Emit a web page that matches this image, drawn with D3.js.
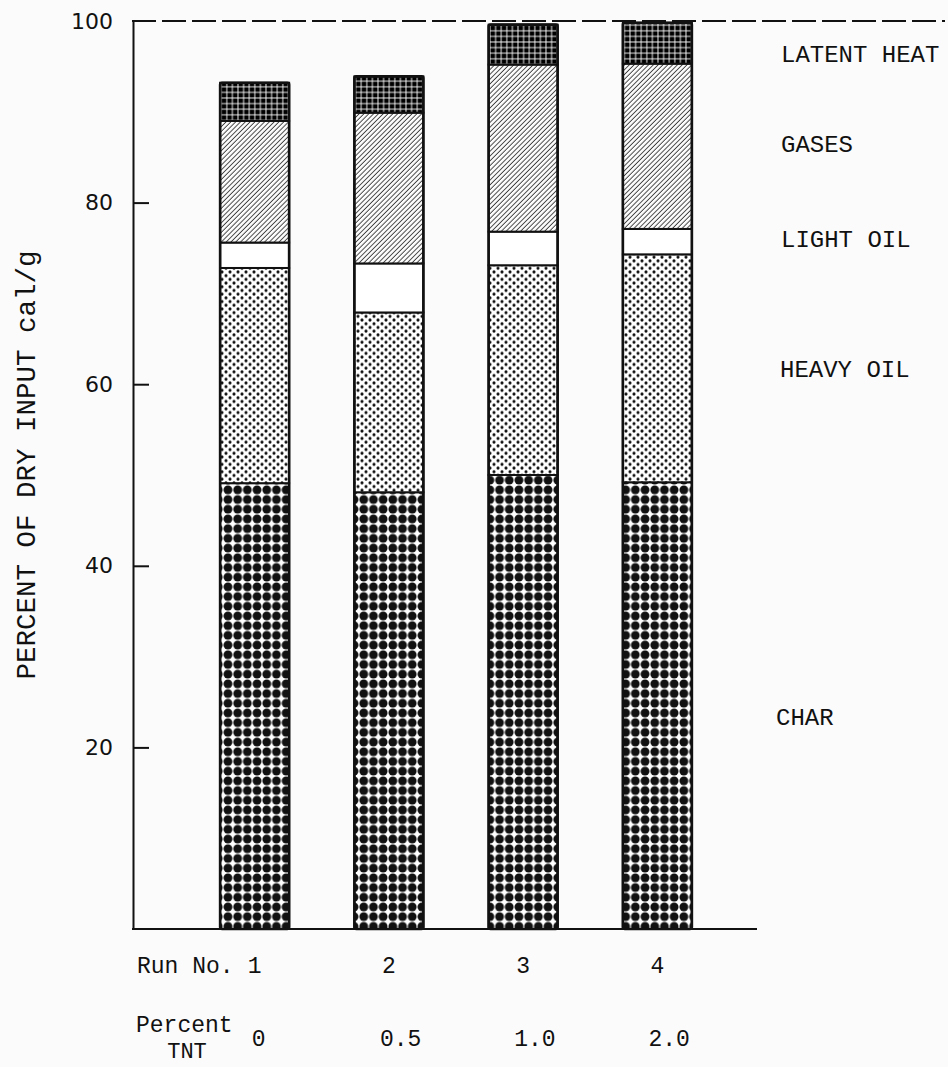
<!DOCTYPE html>
<html>
<head>
<meta charset="utf-8">
<script src="https://cdn.jsdelivr.net/npm/d3@7/dist/d3.min.js"></script>
<style>
  html, body { margin: 0; padding: 0; background: #fbfbfb; }
  svg { display: block; }
</style>
</head>
<body>
<svg id="chart" width="948" height="1067"></svg>
<script>
// ---------- data ----------
const runs = ["1", "2", "3", "4"];
const tntPercent = ["0", "0.5", "1.0", "2.0"];
const components = ["CHAR", "HEAVY OIL", "LIGHT OIL", "GASES", "LATENT HEAT"];
const charVals = [49.1, 48.1, 50.0, 49.2];
const heavyOilVals = [23.7, 19.8, 23.1, 25.1];
const lightOilVals = [2.8, 5.4, 3.7, 2.8];
const gasesVals = [13.4, 16.6, 18.4, 18.2];
const latentHeatVals = [4.2, 4.0, 4.4, 4.5];
const yTicks = [20, 40, 60, 80, 100];
const yLabel = "PERCENT OF DRY INPUT cal/g";

// ---------- layout ----------
const W = 948, H = 1067;
const axisX = 133, baseY = 929, topY = 21;
const mono = "'Courier New', 'Liberation Mono', monospace";
const ink = "#111";

const svg = d3.select("#chart");
svg.append("rect").attr("width", W).attr("height", H).attr("fill", "#fbfbfb");

const y = d3.scaleLinear().domain([0, 100]).range([baseY, topY]);
const x = d3.scaleBand().domain(runs).range([187.5, 724.5]).paddingInner(0.486).paddingOuter(0.243);

// ---------- patterns ----------
const defs = svg.append("defs");
// CHAR: large dots
const pChar = defs.append("pattern").attr("id", "p-char").attr("patternUnits", "userSpaceOnUse")
  .attr("width", 9.7).attr("height", 9.7);
pChar.append("rect").attr("width", 9.7).attr("height", 9.7).attr("fill", "#fff");
pChar.append("circle").attr("cx", 4.85).attr("cy", 4.85).attr("r", 4.4).attr("fill", ink);

// HEAVY OIL: small staggered dots
const pHeavy = defs.append("pattern").attr("id", "p-heavy").attr("patternUnits", "userSpaceOnUse")
  .attr("width", 8.0).attr("height", 7.4);
pHeavy.append("rect").attr("width", 8.0).attr("height", 7.4).attr("fill", "#fff");
[[2.0, 1.85], [6.0, 5.55]].forEach(([cx, cy]) =>
  pHeavy.append("circle").attr("cx", cx).attr("cy", cy).attr("r", 1.55).attr("fill", ink));

// GASES: diagonal hatching
const pGas = defs.append("pattern").attr("id", "p-gas").attr("patternUnits", "userSpaceOnUse")
  .attr("width", 3.4).attr("height", 10).attr("patternTransform", "rotate(45)");
pGas.append("rect").attr("width", 3.4).attr("height", 10).attr("fill", "#fff");
pGas.append("line").attr("x1", 1.2).attr("x2", 1.2).attr("y1", 0).attr("y2", 10)
  .attr("stroke", "#333").attr("stroke-width", 0.9);

// LATENT HEAT: black with white grid
const pLat = defs.append("pattern").attr("id", "p-lat").attr("patternUnits", "userSpaceOnUse")
  .attr("width", 5.6).attr("height", 5.6);
pLat.append("rect").attr("width", 5.6).attr("height", 5.6).attr("fill", "#000");
pLat.append("line").attr("x1", 2.8).attr("x2", 2.8).attr("y1", 0).attr("y2", 5.6)
  .attr("stroke", "#fff").attr("stroke-width", 0.9);
pLat.append("line").attr("y1", 2.8).attr("y2", 2.8).attr("x1", 0).attr("x2", 5.6)
  .attr("stroke", "#fff").attr("stroke-width", 0.9);

const fills = {
  "CHAR": "url(#p-char)",
  "HEAVY OIL": "url(#p-heavy)",
  "LIGHT OIL": "#fff",
  "GASES": "url(#p-gas)",
  "LATENT HEAT": "url(#p-lat)"
};

// ---------- stacked data ----------
const table = runs.map((r, i) => ({
  run: r,
  "CHAR": charVals[i],
  "HEAVY OIL": heavyOilVals[i],
  "LIGHT OIL": lightOilVals[i],
  "GASES": gasesVals[i],
  "LATENT HEAT": latentHeatVals[i]
}));
const stacked = d3.stack().keys(components)(table);

// ---------- bars ----------
const gBars = svg.append("g");
stacked.forEach(layer => {
  gBars.selectAll(null).data(layer).enter().append("rect")
    .attr("x", d => x(d.data.run))
    .attr("width", x.bandwidth())
    .attr("y", d => y(d[1]))
    .attr("height", d => y(d[0]) - y(d[1]))
    .attr("fill", fills[layer.key])
    .attr("stroke", ink)
    .attr("stroke-width", 2);
});
// outer bar outline
gBars.selectAll(null).data(stacked[stacked.length - 1]).enter().append("rect")
  .attr("x", d => x(d.data.run))
  .attr("width", x.bandwidth())
  .attr("y", d => y(d[1]))
  .attr("height", d => y(0) - y(d[1]))
  .attr("rx", 2)
  .attr("fill", "none")
  .attr("stroke", ink)
  .attr("stroke-width", 2.6);

// ---------- axes ----------
const yAxis = d3.axisLeft(y).tickValues(yTicks).tickSizeInner(-16).tickSizeOuter(0).tickPadding(20)
  .tickFormat(d3.format("d"));
const gY = svg.append("g").attr("transform", `translate(${axisX},0)`).call(yAxis);
gY.select(".domain").attr("stroke", ink).attr("stroke-width", 2);
gY.selectAll(".tick line").attr("stroke", ink).attr("stroke-width", 2)
  .filter(d => d === 100).remove();
gY.selectAll(".tick text").attr("fill", ink)
  .style("font-family", "'DejaVu Sans', sans-serif").style("font-size", "22px");

// baseline
svg.append("line").attr("x1", axisX - 1).attr("x2", 757).attr("y1", y(0)).attr("y2", y(0))
  .attr("stroke", ink).attr("stroke-width", 2.2);
// dashed 100% line
svg.append("line").attr("x1", axisX - 1).attr("x2", 945).attr("y1", y(100)).attr("y2", y(100))
  .attr("stroke", ink).attr("stroke-width", 2).attr("stroke-dasharray", "24,6");

// y label
svg.append("text")
  .attr("transform", "translate(35,465) rotate(-90)")
  .attr("text-anchor", "middle")
  .style("font-family", mono).style("font-size", "27.5px").attr("fill", ink)
  .text(yLabel);

// ---------- right-side component labels ----------
const labelY = { "LATENT HEAT": 62, "GASES": 152, "LIGHT OIL": 247, "HEAVY OIL": 377, "CHAR": 725 };
const labelX = { "LATENT HEAT": 781, "GASES": 781, "LIGHT OIL": 781, "HEAVY OIL": 780, "CHAR": 776 };
svg.append("g").selectAll("text").data(components).enter().append("text")
  .attr("x", d => labelX[d]).attr("y", d => labelY[d])
  .style("font-family", mono).style("font-size", "24px").attr("fill", ink)
  .text(d => d);

// ---------- bottom labels ----------
const fsB = "23px";
svg.append("text").attr("x", 137).attr("y", 973)
  .style("font-family", mono).style("font-size", fsB).attr("fill", ink).text("Run No.");
svg.append("g").selectAll("text").data(runs).enter().append("text")
  .attr("x", d => x(d) + x.bandwidth() / 2).attr("y", 973).attr("text-anchor", "middle")
  .style("font-family", mono).style("font-size", fsB).attr("fill", ink).text(d => d);

svg.append("text").attr("x", 136).attr("y", 1032)
  .style("font-family", mono).style("font-size", fsB).attr("fill", ink).text("Percent");
svg.append("text").attr("x", 187).attr("y", 1058).attr("text-anchor", "middle")
  .style("font-family", mono).style("font-size", "22px").attr("fill", ink).text("TNT");
svg.append("g").selectAll("text").data(tntPercent).enter().append("text")
  .attr("x", (d, i) => x(runs[i]) + x.bandwidth() / 2 - (i === 0 ? 3 : 9)).attr("y", 1046)
  .style("font-family", mono).style("font-size", fsB).attr("fill", ink).text(d => d);
</script>
</body>
</html>
